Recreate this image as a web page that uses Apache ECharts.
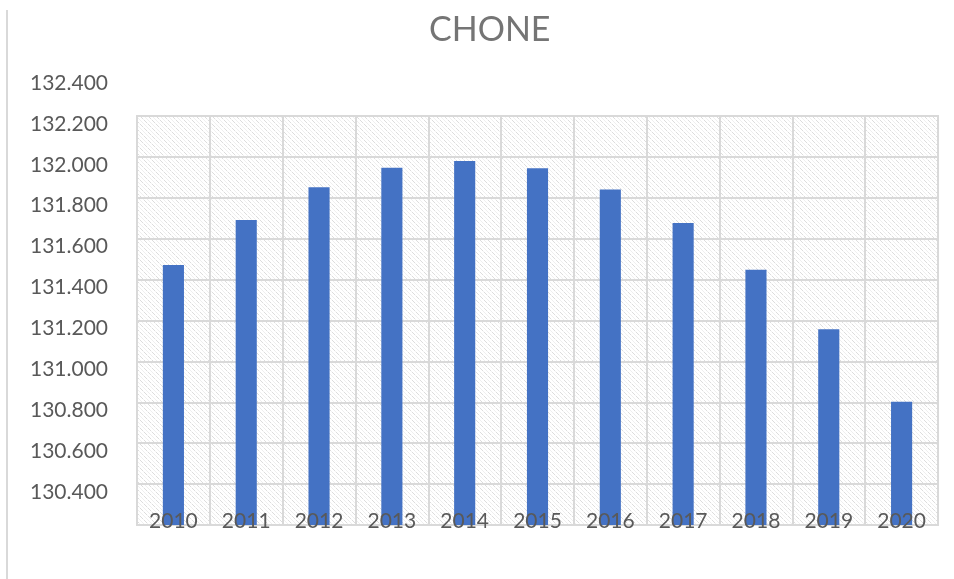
<!DOCTYPE html>
<html>
<head>
<meta charset="utf-8">
<script src="https://cdn.jsdelivr.net/npm/echarts@6/dist/echarts.min.js"></script>
<style>
  html, body { margin: 0; padding: 0; background: #fff; }
  #chart { width: 954px; height: 579px; }
</style>
</head>
<body>
<div id="chart"></div>
<script>
(()=>{
    "use strict";
    // data
    const years = ["2010", "2011", "2012", "2013", "2014", "2015", "2016", "2017", "2018", "2019", "2020"];
    const population = [131471, 131691, 131851, 131947, 131980, 131944, 131840, 131677, 131448, 131157, 130803];
    const yMin = 130200, yMax = 132200, yLabelMax = 132400, yStep = 200;

    // Excel-like light diagonal hatch for the plot area
    const tile = document.createElement('canvas');
    tile.width = 8; tile.height = 8;
    const g = tile.getContext('2d');
    g.fillStyle = '#ffffff';
    g.fillRect(0, 0, 8, 8);
    for (let i = 0; i < 8; i++) {
        g.fillStyle = (i % 4 === 3) ? '#f2f2f2' : '#dcdcdc';
        g.fillRect(i, i, 1, 1);
        g.fillStyle = '#efefef';
        g.fillRect((i + 4) % 8, i, 1, 1);
    }

    const fmt = v => (v / 1000).toFixed(3);
    const textColor = '#595959';
    const font = 'Lato, "Open Sans", sans-serif';

    const chart = echarts.init(document.getElementById('chart'), null, {renderer: 'canvas'});
    chart.setOption({
        animation: false,
        backgroundColor: '#ffffff',
        title: {
            text: 'CHONE', left: 424, top: 8,
            textStyle: {color: '#757575', fontSize: 34, fontWeight: 'normal', fontFamily: font}
        },
        graphic: [{
            type: 'line', shape: {x1: 7, y1: 10, x2: 7, y2: 579},
            style: {stroke: '#d9d9d9', lineWidth: 2}
        }],
        grid: [
            {left: 137, right: 16, top: 116, bottom: 54, show: true,
             backgroundColor: {image: tile, repeat: 'repeat'},
             borderColor: '#d9d9d9', borderWidth: 2},
            {left: 116, width: 10, top: 83, height: 450, show: false}
        ],
        xAxis: [
            {type: 'category', gridIndex: 0, data: years, z: 0,
             axisLine: {show: true, lineStyle: {color: '#d9d9d9', width: 2}},
             axisTick: {show: false}, axisLabel: {show: false},
             splitLine: {show: true, interval: 0, lineStyle: {color: '#d9d9d9', width: 2}}},
            {type: 'value', gridIndex: 1, show: false},
            {type: 'category', gridIndex: 0, data: years, position: 'bottom', z: 10,
             axisLine: {show: false}, axisTick: {show: false}, splitLine: {show: false},
             axisLabel: {color: textColor, fontSize: 21, fontFamily: font, margin: -4,
                         verticalAlign: 'middle', interval: 0}}
        ],
        yAxis: [
            {type: 'value', gridIndex: 0, min: yMin, max: yMax, interval: yStep, z: 0,
             axisLine: {show: false}, axisTick: {show: false}, axisLabel: {show: false},
             splitLine: {show: true, lineStyle: {color: '#d9d9d9', width: 2}}},
            {type: 'value', gridIndex: 1, min: yMin, max: yLabelMax, interval: yStep,
             axisLine: {show: false}, axisTick: {show: false}, splitLine: {show: false},
             axisLabel: {color: textColor, fontSize: 21, fontFamily: font, margin: 8,
                         showMinLabel: false,
                         formatter: v => v === yMin ? '' : fmt(v)}}
        ],
        series: [{
            type: 'bar', xAxisIndex: 0, yAxisIndex: 0, data: population,
            barWidth: '29%', itemStyle: {color: '#4472c4'}
        }]
    });
})();
</script>
</body>
</html>
